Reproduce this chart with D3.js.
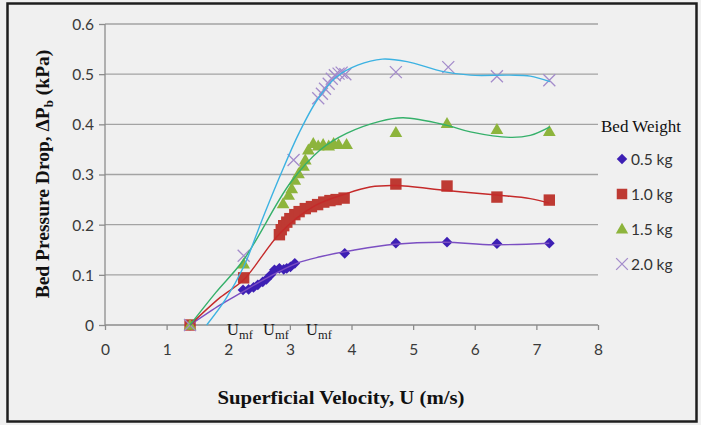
<!DOCTYPE html>
<html><head><meta charset="utf-8">
<script src="https://cdn.jsdelivr.net/npm/d3@7"></script>
<style>
html,body{margin:0;padding:0;background:#f0f0f0;}
svg{display:block;}
</style></head>
<body>
<svg id="chart" width="701" height="425"></svg>
<script>
// ---- data ----
const xTicks = [0,1,2,3,4,5,6,7,8];
const yTicks = [0,0.1,0.2,0.3,0.4,0.5,0.6];
const seriesNames = ["0.5 kg","1.0 kg","1.5 kg","2.0 kg"];

const u05 = [1.38,2.24,2.33,2.41,2.48,2.56,2.62,2.69,2.75,2.83,2.90,2.95,3.01,3.08,3.89,4.72,5.55,6.36,7.21];
const p05 = [0,0.070,0.071,0.075,0.080,0.086,0.091,0.100,0.110,0.113,0.111,0.113,0.116,0.123,0.143,0.163,0.165,0.162,0.163];

const u10 = [1.38,2.25,2.83,2.86,2.90,2.95,3.00,3.08,3.15,3.25,3.35,3.45,3.55,3.65,3.75,3.88,4.72,5.55,6.36,7.21];
const p10 = [0,0.094,0.180,0.190,0.198,0.205,0.212,0.220,0.226,0.232,0.236,0.240,0.245,0.248,0.250,0.253,0.281,0.277,0.255,0.249];

const u15 = [1.38,2.25,2.89,2.98,3.03,3.08,3.14,3.22,3.25,3.30,3.38,3.46,3.54,3.63,3.71,3.79,3.92,4.72,5.55,6.36,7.21];
const p15 = [0,0.122,0.242,0.259,0.272,0.289,0.302,0.317,0.329,0.349,0.362,0.357,0.360,0.357,0.362,0.360,0.360,0.384,0.402,0.390,0.386];

const u20 = [1.38,2.25,3.06,3.46,3.52,3.57,3.63,3.68,3.73,3.79,3.84,3.90,4.72,5.57,6.36,7.21];
const p20 = [0,0.138,0.329,0.452,0.461,0.471,0.481,0.491,0.498,0.501,0.503,0.500,0.504,0.514,0.496,0.488];

// trendlines
const t05u = [1.38,1.87,2.19,2.6,3.11,3.49,4.03,4.7,5.5,6.3,7.21];
const t05p = [0,0.040,0.063,0.092,0.123,0.136,0.149,0.161,0.165,0.160,0.163];
const t10u = [1.38,1.87,2.25,2.84,3.38,3.92,4.3,4.71,5.55,6.36,6.9,7.21];
const t10p = [0,0.055,0.090,0.183,0.236,0.262,0.275,0.278,0.268,0.259,0.252,0.243];
const t15u = [1.38,1.8,2.25,3.0,3.49,3.92,4.46,4.84,5.55,5.93,6.57,6.9,7.22];
const t15p = [0,0.065,0.13,0.282,0.349,0.382,0.406,0.413,0.398,0.385,0.374,0.378,0.395];
const t20u = [1.65,1.95,2.25,2.55,2.85,3.15,3.45,3.75,4.1,4.5,4.9,5.49,5.93,6.57,6.9,7.22];
const t20p = [0,0.05,0.116,0.210,0.300,0.383,0.450,0.494,0.518,0.530,0.525,0.505,0.498,0.498,0.496,0.485];

const umfText = ["U","mf"];

// ---- layout ----
const svg = d3.select("#chart");
const X0 = 105, X1 = 598, Y0 = 325, Y1 = 24;
const x = d3.scaleLinear().domain([0,8]).range([X0,X1]);
const y = d3.scaleLinear().domain([0,0.6]).range([Y0,Y1]);

const markerCol = ["#3d1fb4","#be3a33","#8db43c","#a48ccb"];
const lineCol = ["#7b4fc2","#c52a2a","#35b06a","#3cb2e2"];
const serif = "'Liberation Serif','Times New Roman',serif";
const sans = "Lato, 'Open Sans', sans-serif";

// frame
svg.append("rect").attr("x",7.5).attr("y",3.5).attr("width",689).attr("height",418)
  .attr("fill","#f0f0f0").attr("stroke","#1e1e1e").attr("stroke-width",2.5);

// grid
svg.append("g").selectAll("line").data(yTicks.filter(d=>d>0)).join("line")
  .attr("x1",X0).attr("x2",X1).attr("y1",d=>y(d)).attr("y2",d=>y(d))
  .attr("stroke","#a3a3a3").attr("stroke-width",1.4);

// axes
const yAxis = d3.axisLeft(y).tickValues(yTicks).tickSize(6).tickFormat(d=>d===0?"0":d3.format(".1f")(d));
const gy = svg.append("g").attr("transform",`translate(${X0},0)`).call(yAxis);
const xAxis = d3.axisBottom(x).tickValues(xTicks).tickSize(5).tickFormat(d3.format("d"));
const gx = svg.append("g").attr("transform",`translate(0,${Y0})`).call(xAxis);
[gx,gy].forEach(g=>{
  g.select(".domain").attr("stroke","#8c8c8c").attr("stroke-width",1.3);
  g.selectAll(".tick line").attr("stroke","#8c8c8c").attr("stroke-width",1.3);
  g.selectAll(".tick text").attr("fill","#3a3a3a").style("font-family",sans).style("font-size","15.5px");
});
gy.select(".domain").attr("d",`M0,${Y0}V${Y1}`);
gx.select(".domain").attr("d",`M${X0},0H${X1}`);
gy.selectAll(".tick text").attr("x",-11).attr("dy","0.35em");
gx.selectAll(".tick text").attr("y",19).attr("dy","0.71em");

// markers
function drawMarker(g, type, cx, cy, col, scale=1){
  if(type===0){
    g.append("path").attr("d",d3.symbol().type(d3.symbolSquare).size(58*scale)())
      .attr("transform",`translate(${cx},${cy}) rotate(45)`).attr("fill",col);
  } else if(type===1){
    g.append("path").attr("d",d3.symbol().type(d3.symbolSquare).size(130*scale)())
      .attr("transform",`translate(${cx},${cy})`).attr("fill",col);
  } else if(type===2){
    g.append("path").attr("d",d3.symbol().type(d3.symbolTriangle).size(70*scale)())
      .attr("transform",`translate(${cx},${cy+1})`).attr("fill",col);
  } else {
    const r = 6*Math.sqrt(scale);
    g.append("path").attr("d",`M${-r},${-r}L${r},${r}M${-r},${r}L${r},${-r}`)
      .attr("transform",`translate(${cx},${cy})`).attr("stroke",col).attr("stroke-width",1.3).attr("fill","none");
  }
}

const dataU = [u05,u10,u15,u20], dataP = [p05,p10,p15,p20];
const trU = [t05u,t10u,t15u,t20u], trP = [t05p,t10p,t15p,t20p];

const gm = svg.append("g");
dataU.forEach((us,i)=>{
  us.forEach((u,j)=>drawMarker(gm,i,x(u),y(dataP[i][j]),markerCol[i]));
});

const line = d3.line().x(d=>x(d[0])).y(d=>y(d[1])).curve(d3.curveCatmullRom.alpha(0.5));
trU.forEach((us,i)=>{
  svg.append("path").attr("d",line(us.map((u,j)=>[u,trP[i][j]])))
    .attr("fill","none").attr("stroke",lineCol[i]).attr("stroke-width",1.4);
});

// U_mf labels
const umfXs = [227, 263, 306];
umfXs.forEach(px=>{
  const t = svg.append("text").attr("x",px).attr("y",335)
    .style("font-family",serif).style("font-size","16.5px").attr("fill","#1a1a1a");
  t.append("tspan").text(umfText[0]);
  t.append("tspan").attr("dy",4).style("font-size","12.5px").text(umfText[1]);
});

// axis titles
svg.append("text").attr("x",341).attr("y",404).attr("text-anchor","middle")
  .attr("textLength",247).attr("lengthAdjust","spacingAndGlyphs")
  .style("font-family",serif).style("font-weight","bold").style("font-size","19.5px")
  .attr("fill","#111").text("Superficial Velocity, U (m/s)");

const yt = svg.append("text").attr("transform","translate(49,174) rotate(-90)").attr("text-anchor","middle")
  .style("font-family",serif).style("font-weight","bold").style("font-size","19.5px")
  .attr("fill","#111");
yt.append("tspan").text("Bed Pressure Drop, \u0394P");
yt.append("tspan").attr("dy",4).style("font-size","13px").text("b");
yt.append("tspan").attr("dy",-4).text(" (kPa)");

// legend
svg.append("text").attr("x",601).attr("y",132)
  .style("font-family",serif).style("font-size","17px").attr("fill","#111").text("Bed Weight");
const legY = [159,194,229,264];
seriesNames.forEach((n,i)=>{
  drawMarker(svg,i,622,legY[i],markerCol[i], i===1?0.85:0.95);
  svg.append("text").attr("x",631).attr("y",legY[i]+6)
    .style("font-family",sans).style("font-size","15.5px").attr("fill","#333").text(n);
});
</script>
</body></html>
